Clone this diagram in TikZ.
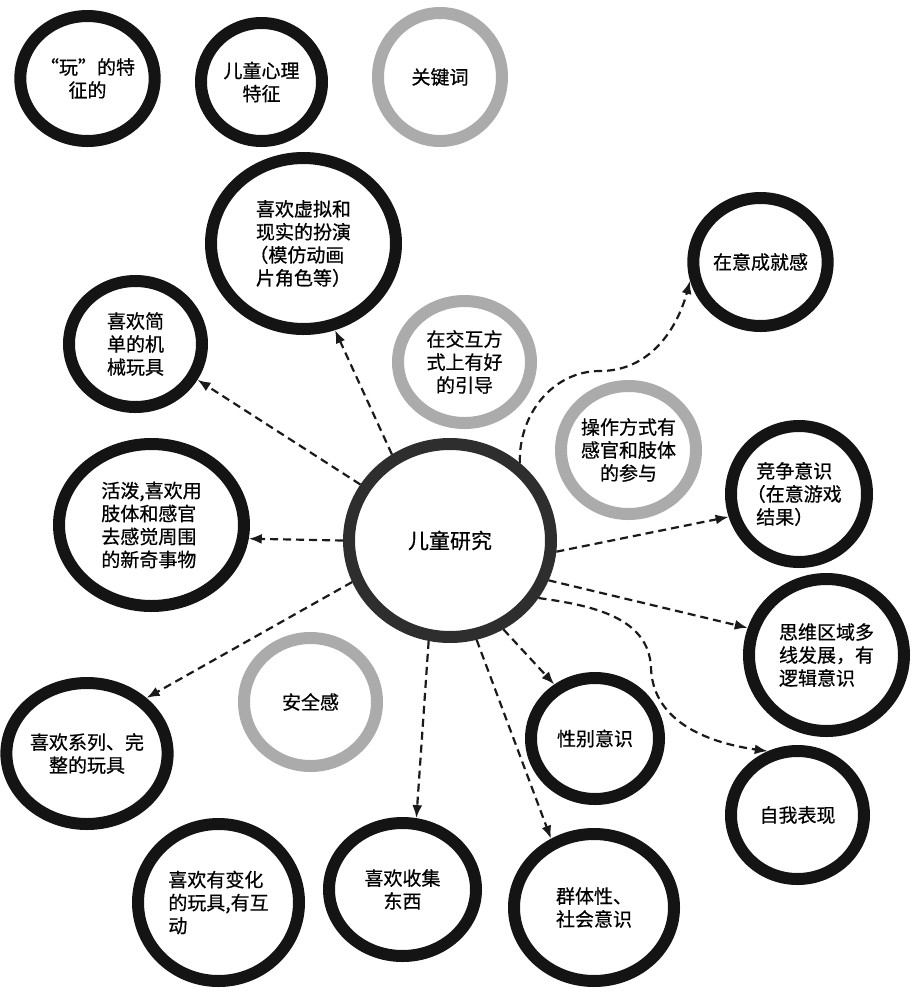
\documentclass[tikz,border=0pt]{standalone}
\usepackage{fontspec}
\setmainfont{Noto Sans CJK SC}[FakeBold=0.6]
\usetikzlibrary{arrows.meta,shapes.geometric}
\definecolor{ringblack}{HTML}{141414}
\definecolor{ringgray}{HTML}{ABABAB}
\definecolor{ringcenter}{HTML}{2E2E2E}
\definecolor{linecol}{HTML}{1A1A1A}
\begin{document}
\begin{tikzpicture}[x=1pt,y=-1pt,
  ring/.style={ellipse, draw=ringblack, line width=12pt, inner sep=0pt, align=center,
    font=\fontsize{19}{23}\selectfont, text=black},
  grayring/.style={ring, draw=ringgray},
  sz/.style 2 args={minimum width=#1pt, minimum height=#2pt},
  link/.style={draw=linecol, line width=2.2pt, dash pattern=on 8pt off 5pt,
    -{Latex[length=13pt,width=10pt]}}]
\useasboundingbox (0,0) rectangle (911,994);

% top row
\node[ring, sz={123}{125}] (wan) at (87.5,78.5) {“玩”的特\\征的};
\node[ring, sz={121}{118}] (xinli) at (261.5,82) {儿童心理\\特征};
\node[grayring, sz={124}{128}] (guanjian) at (440,77) {关键词};

% center
\node[ring, draw=ringcenter, sz={202}{193}, font=\fontsize{21}{25}\selectfont] (c) at (450,540.5) {儿童研究};

% surrounding
\node[ring, sz={185}{171}, align=left] (fanyan) at (303.5,243.5) {喜欢虚拟和\\现实的扮演\\\kern-0.35em（模仿动画\\片角色等）};
\node[ring, sz={133}{126}, align=left] (jixie) at (135.5,344) {喜欢简\\单的机\\械玩具};
\node[ring, sz={185}{162}, align=left] (huopo) at (151.5,525) {活泼,喜欢用\\肢体和感官\\去感觉周围\\的新奇事物};
\node[grayring, sz={133}{122}] (jiaohu) at (464.5,362) {在交互方\\式上有好\\的引导};
\node[grayring, sz={135}{128}] (caozuo) at (628.5,450) {操作方式有\\感官和肢体\\的参与};
\node[ring, sz={133}{128}] (chengjiu) at (760.5,262) {在意成就感};
\node[ring, sz={136}{136}, align=left] (jingzheng) at (799,494) {竞争意识\\\kern-0.5em（在意游戏\\结果）};
\node[ring, sz={155}{152}, align=left] (siwei) at (826.5,655) {思维区域多\\线发展，有\\逻辑意识};
\node[ring, sz={133}{128}] (ziwo) at (797.5,815) {自我表现};
\node[ring, sz={128}{121}] (xingbie) at (595,738.5) {性别意识};
\node[ring, sz={160}{147}, align=left] (qunti) at (594,907.5) {群体性、\\社会意识};
\node[ring, sz={147}{133}] (shouji) at (402.5,889.5) {喜欢收集\\东西};
\node[ring, sz={161}{157}, align=left] (bianhua) at (218.5,902.5) {喜欢有变化\\的玩具,有互\\动};
\node[ring, sz={148}{141}] (xilie) at (87,753.5) {喜欢系列、完\\整的玩具};
\node[grayring, sz={133}{128}] (anquan) at (310.5,702) {安全感};

% helper coordinates for curved links
\coordinate (m1) at (651,668);
\coordinate (m2) at (600,371);

% links
\draw[link] (c.124.4) -- (fanyan.-70.3);
\draw[link] (c.148.4) -- (jixie.-30);
\draw[link] (c.180) -- (huopo.-8.4);
\draw[link] (c.203.7) -- (xilie.43.3);
\draw[link] (c.258.9) -- (shouji.79.4);
\draw[link] (c.-75.2) -- (qunti.122.2);
\draw[link] (c.-59.4) -- (xingbie.127.3);
\draw[link] (c.-6.6) -- (jingzheng.198);
\draw[link] (c.-22.1) -- (siwei.161.2);
\draw[link] (c.-33.3) to[out=-8, in=92] (m1) to[out=-88, in=172] (ziwo.115.1);
\draw[link] (c.48.2) to[out=92, in=180] (m2) to[out=0, in=-105] (chengjiu.195);
\end{tikzpicture}
\end{document}
